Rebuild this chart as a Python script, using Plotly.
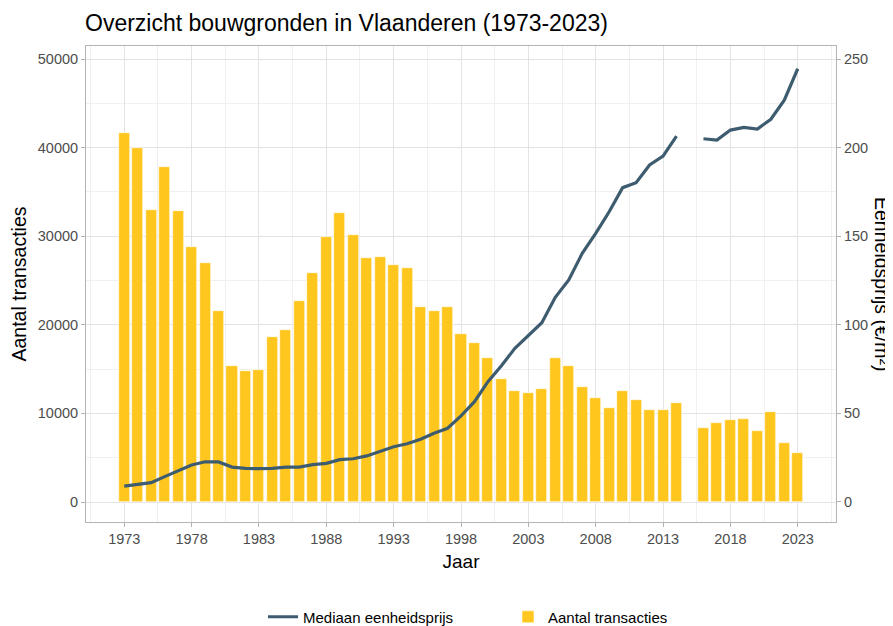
import plotly.graph_objects as go

years = list(range(1973, 2024))

transacties = [41600, 40000, 33000, 37770, 32800, 28750, 26950, 21560, 15350, 14820,
               14900, 18620, 19450, 22720, 25850, 29950, 32660, 30140, 27540, 27690,
               26710, 26450, 22050, 21560, 22050, 18930, 17980, 16250, 13880, 12560,
               12300, 12790, 16250, 15350, 13020, 11740, 10650, 12530, 11510, 10380,
               10380, 11210, None, 8320, 8920, 9260, 9330, 8010, 10160, 6620,
               5490]

prijs = [9.0, 10.0, 10.9, 14.3, 17.7, 20.9, 22.7, 22.6, 19.7, 19.0,
         18.8, 19.0, 19.7, 19.7, 21.1, 21.8, 23.9, 24.4, 26.0, 28.4,
         31.2, 32.9, 35.4, 38.8, 41.6, 48.6, 56.6, 67.9, 76.9, 86.7,
         93.9, 101.2, 115.5, 125.3, 140.3, 151.6, 163.8, 177.4, 180.2, 190.2,
         195.2, 206.5, None, 205.0, 204.3, 209.9, 211.4, 210.5, 216.0, 226.8,
         244.5]

x_ticks = list(range(1973, 2024, 5))
y_left_ticks = [0, 10000, 20000, 30000, 40000, 50000]
y_right_ticks = [0, 50, 100, 150, 200, 250]

FONT = "Liberation Sans, Arial, sans-serif"
BAR_COLOR = "#FFC61E"
LINE_COLOR = "#3E5C6F"
GRID = "#e3e3e3"
MINOR = "#f0f0f0"
BORDER = "#b3b3b3"
TICKTXT = "#4d4d4d"

# page body has an 8px margin; figure is sized so the plot lands where the reference has it
W, H = 885, 618
L, R, T, B = 78, 57, 38, 104
PW, PH = W - L - R, H - T - B

fig = go.Figure()
fig.add_trace(go.Bar(
    x=years, y=transacties, name="Aantal transacties",
    marker=dict(color=BAR_COLOR, line=dict(color="white", width=0.6)),
    width=0.82, yaxis="y", legendrank=2,
))
fig.add_trace(go.Scatter(
    x=years, y=prijs, name="Mediaan eenheidsprijs", mode="lines",
    line=dict(color=LINE_COLOR, width=3.2), connectgaps=False,
    yaxis="y2", legendrank=1,
))

fig.update_layout(
    width=W, height=H,
    margin=dict(l=L, r=R, t=T, b=B, autoexpand=False),
    paper_bgcolor="white", plot_bgcolor="white",
    font=dict(family=FONT, color="black"),
    title=dict(text="Overzicht bouwgronden in Vlaanderen (1973-2023)",
               x=77/W, xanchor="left", y=1-15/H, yanchor="middle",
               font=dict(size=23, color="black", family=FONT)),
    showlegend=True,
    legend=dict(orientation="h", x=(255 - L)/PW, xanchor="left", y=(H - B - 609)/PH, yanchor="middle",
                font=dict(size=15, color="black", family=FONT),
                itemwidth=30, entrywidth=200, entrywidthmode="pixels", traceorder="normal"),
    bargap=0,
    xaxis=dict(
        range=[1970.16, 2025.84], tickvals=x_ticks, ticktext=[str(v) for v in x_ticks],
        showgrid=True, gridcolor=GRID, gridwidth=1,
        minor=dict(dtick=2.5, tick0=1975.5, showgrid=True, gridcolor=MINOR, gridwidth=1, ticklen=0),
        ticks="outside", ticklen=4, tickcolor=BORDER,
        tickfont=dict(size=14.5, color=TICKTXT, family=FONT),
        showline=True, linecolor=BORDER, linewidth=1, mirror=True,
        zeroline=False,
        title=dict(text="Jaar", font=dict(size=19, color="black", family=FONT), standoff=8),
    ),
    yaxis=dict(
        range=[-2257, 51467], tickvals=y_left_ticks, ticktext=[str(v) for v in y_left_ticks],
        showgrid=True, gridcolor=GRID, gridwidth=1,
        minor=dict(dtick=5000, tick0=5000, showgrid=True, gridcolor=MINOR, gridwidth=1, ticklen=0),
        ticks="outside", ticklen=4, tickcolor=BORDER,
        tickfont=dict(size=14.5, color=TICKTXT, family=FONT),
        showline=True, linecolor=BORDER, linewidth=1, mirror=True,
        zeroline=False,
        title=dict(text="Aantal transacties", font=dict(size=19.5, color="black", family=FONT), standoff=8),
    ),
    yaxis2=dict(
        range=[-11.29, 257.34], tickvals=y_right_ticks, ticktext=[str(v) for v in y_right_ticks],
        overlaying="y", side="right", showgrid=False, zeroline=False,
        ticks="outside", ticklen=4, tickcolor=BORDER,
        tickfont=dict(size=14.5, color=TICKTXT, family=FONT),
        showline=False,
    ),
)

fig.add_annotation(
    text="Eenheidsprijs (€/m²)", textangle=90,
    xref="paper", yref="paper", x=1 + (874 - (L + PW)) / PW, y=0.5,
    xanchor="center", yanchor="middle", showarrow=False,
    font=dict(size=19.5, color="black", family=FONT),
)

fig.write_html("out.html")
